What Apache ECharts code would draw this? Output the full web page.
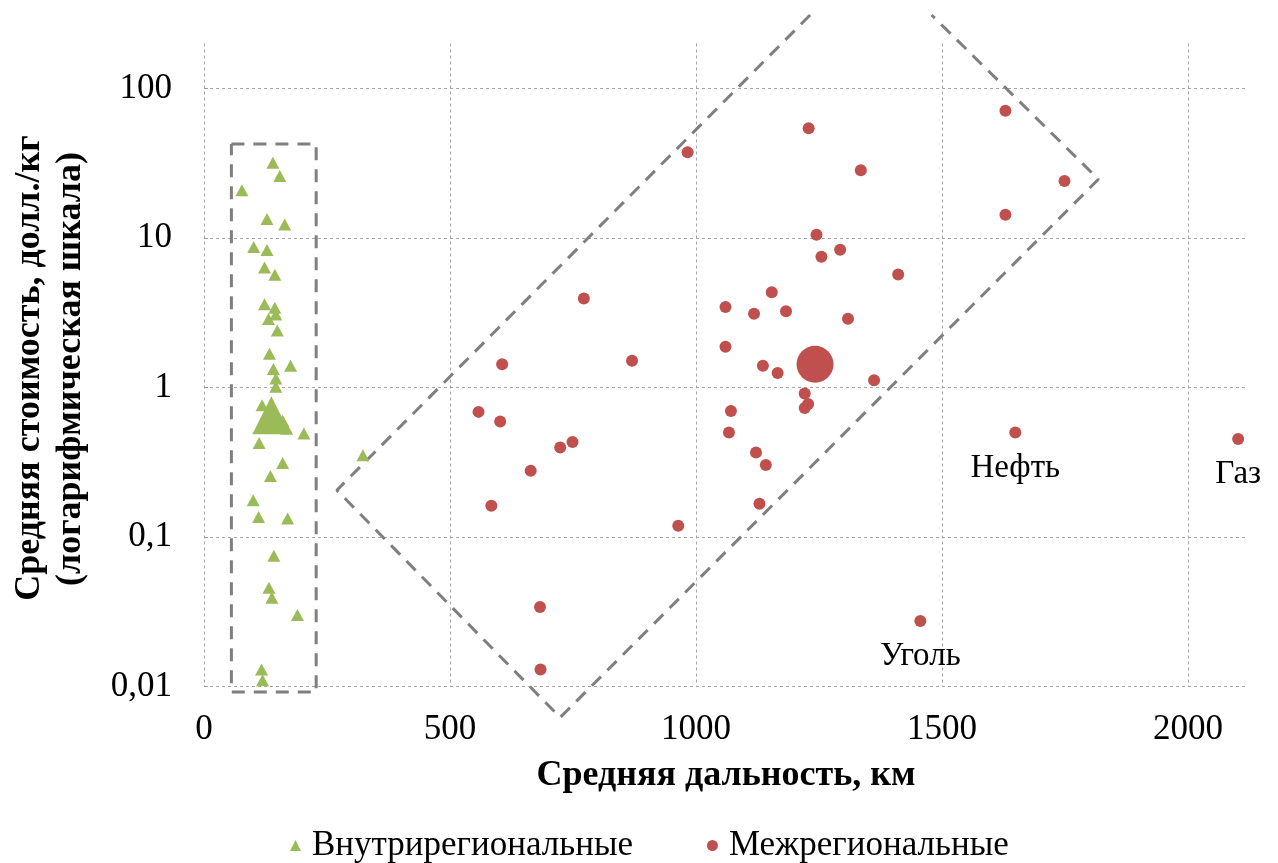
<!DOCTYPE html>
<html>
<head>
<meta charset="utf-8">
<script src="https://cdn.jsdelivr.net/npm/echarts@6/dist/echarts.min.js"></script>
<style>html,body{margin:0;padding:0;background:#fff;}#chart{width:1278px;height:863px;}</style>
</head>
<body>
<div id="chart"></div>
<script>
// Внутрирегиональные (intra-regional): distance km, cost $/kg
var intraDist = [140, 154, 77, 128, 164, 101, 128, 123, 144, 123, 144, 146, 131, 149, 133, 176, 141, 146, 146,
                 118, 160, 168, 203, 112, 160, 135, 100, 111, 170, 142, 132, 138, 190, 117, 119, 323];
var intraCost = [31.9, 26.0, 20.9, 13.4, 12.3, 8.69, 8.30, 6.36, 5.67, 3.60, 3.41, 3.08, 2.87, 2.41, 1.68, 1.40, 1.33, 1.15, 1.01,
                 0.76, 0.60, 0.53, 0.492, 0.426, 0.313, 0.256, 0.176, 0.136, 0.133, 0.075, 0.0458, 0.0393, 0.0301, 0.0130, 0.0110, 0.352];
// large aggregate intra-regional point
var intraBigDist = [137];
var intraBigCost = [0.653];

// Межрегиональные (inter-regional)
var interDist = [772, 606, 870, 558, 602, 749, 724, 664, 584, 964,
                 1245, 1293, 1255, 1411, 1154, 1060, 1118, 1183, 1309, 1060,
                 1136, 1166, 1362, 1221, 1228, 1221, 1071, 1067, 1122, 1142,
                 1129, 983, 1229, 1335, 1629, 1749, 1629, 683, 684];
var interCost = [3.94, 1.43, 1.51, 0.687, 0.592, 0.432, 0.397, 0.277, 0.162, 0.119,
                 10.5, 8.34, 7.48, 5.71, 4.34, 3.46, 3.11, 3.24, 2.88, 1.87,
                 1.40, 1.25, 1.12, 0.912, 0.777, 0.730, 0.697, 0.500, 0.367, 0.303,
                 0.167, 37.5, 54.2, 28.4, 71.0, 24.1, 14.3, 0.034, 0.0130];
// labelled inter-regional points
var namedDist = [1649, 2102, 1456];
var namedCost = [0.50, 0.453, 0.0274];
var namedLabels = ['Нефть', 'Газ', 'Уголь'];
// large aggregate inter-regional point
var interBigDist = [1242];
var interBigCost = [1.43];

// annotation outlines (data coordinates)
var boxDist = [55.7, 228, 228, 55.7, 55.7];
var boxCost = [42.5, 42.5, 0.0092, 0.0092, 42.5];
var diamondDist = [1232, 270, 724, 1818, 1479];
var diamondCost = [310, 0.2055, 0.00621, 24.7, 310];

var xTicks = [0, 500, 1000, 1500, 2000];
var yTicks = [0.01, 0.1, 1, 10, 100];

function zip(a, b) { return a.map(function (v, i) { return [v, b[i]]; }); }

var GREEN = '#9BBB59', RED = '#C0504D';
var FONT = '"Liberation Serif", "Times New Roman", serif';

var chart = echarts.init(document.getElementById('chart'), null, { renderer: 'canvas' });
chart.setOption({
  animation: false,
  backgroundColor: '#fff',
  textStyle: { fontFamily: FONT },
  grid: { left: 204, right: 31, top: 43.5, bottom: 176.5, containLabel: false },
  xAxis: {
    type: 'value', min: 0, max: 2120, interval: 500,
    axisLine: { show: false }, axisTick: { show: false },
    axisLabel: { fontFamily: FONT, fontSize: 35, color: '#000', margin: 26, showMaxLabel: false,
      formatter: function (v) { return xTicks.indexOf(v) >= 0 ? String(v) : ''; } },
    splitLine: { show: true, showMaxLine: false, lineStyle: { color: '#a6a6a6', type: [3, 3], width: 1 } }
  },
  yAxis: {
    type: 'log', logBase: 10, min: 0.01, max: 200,
    axisLine: { show: false },
    axisTick: { show: true, inside: true, length: 4, lineStyle: { color: '#999' } },
    axisLabel: { fontFamily: FONT, fontSize: 35, color: '#000', margin: 32, showMaxLabel: false,
      formatter: function (v) {
        var r = +(+v).toPrecision(2);
        if (yTicks.indexOf(r) < 0) return '';
        return String(r).replace('.', ',');
      } },
    splitLine: { show: true, showMaxLine: false, lineStyle: { color: '#a6a6a6', type: [3, 3], width: 1 } }
  },
  legend: {
    top: 823, left: 285, itemWidth: 11, itemHeight: 11, itemGap: 74,
    data: [
      { name: 'Внутрирегиональные', icon: 'triangle', itemStyle: { color: GREEN } },
      { name: 'Межрегиональные', icon: 'circle', itemStyle: { color: RED } }
    ],
    textStyle: { fontFamily: FONT, fontSize: 35, color: '#000', padding: [0, 0, 0, 6] }
  },
  graphic: [
    { type: 'text', x: 726, y: 776, style: { text: 'Средняя дальность, км', font: 'bold 36px ' + FONT, fill: '#000', align: 'center', verticalAlign: 'middle' } },
    { type: 'text', x: 30, y: 368, rotation: Math.PI / 2, style: { text: 'Средняя стоимость, долл./кг', font: 'bold 36px ' + FONT, fill: '#000', align: 'center', verticalAlign: 'middle' } },
    { type: 'text', x: 71, y: 369, rotation: Math.PI / 2, style: { text: '(логарифмическая шкала)', font: 'bold 36px ' + FONT, fill: '#000', align: 'center', verticalAlign: 'middle' } }
  ],
  series: [
    { name: 'Внутрирегиональные', type: 'scatter', symbol: 'triangle', symbolSize: [13, 12],
      itemStyle: { color: GREEN, opacity: 1 }, data: zip(intraDist, intraCost), z: 3 },
    { name: 'Внутрирегиональные', type: 'scatter', symbol: 'triangle', symbolSize: [38, 38],
      itemStyle: { color: GREEN, opacity: 1 }, data: zip(intraBigDist, intraBigCost), z: 3 },
    { name: 'Межрегиональные', type: 'scatter', symbol: 'circle', symbolSize: 12,
      itemStyle: { color: RED, opacity: 1 }, data: zip(interDist, interCost), z: 3 },
    { name: 'Межрегиональные', type: 'scatter', symbol: 'circle', symbolSize: 12,
      itemStyle: { color: RED, opacity: 1 }, z: 3,
      data: namedDist.map(function (d, i) { return { value: [d, namedCost[i]], name: namedLabels[i] }; }),
      label: { show: true, position: 'bottom', distance: 13, formatter: '{b}', fontFamily: FONT, fontSize: 33, color: '#000', opacity: 1 } },
    { name: 'Межрегиональные', type: 'scatter', symbol: 'circle', symbolSize: 37,
      itemStyle: { color: RED, opacity: 1 }, data: zip(interBigDist, interBigCost), z: 3 },
    { name: 'box', type: 'line', data: zip(boxDist, boxCost), symbol: 'none', clip: false, silent: true,
      lineStyle: { color: '#7f7f7f', width: 3, type: [13, 9] }, z: 2 },
    { name: 'diamond', type: 'line', data: zip(diamondDist, diamondCost), symbol: 'none', clip: false, silent: true,
      lineStyle: { color: '#7f7f7f', width: 3, type: [13, 9] }, z: 2 }
  ]
});
</script>
</body>
</html>
